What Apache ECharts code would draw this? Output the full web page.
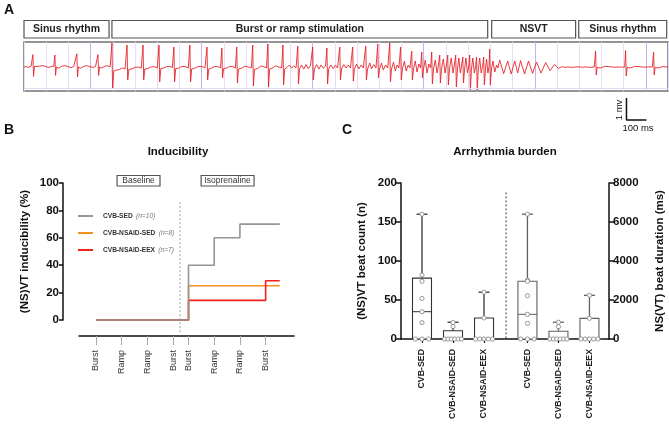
<!DOCTYPE html>
<html><head><meta charset="utf-8">
<script src="https://cdn.jsdelivr.net/npm/echarts@6/dist/echarts.min.js"></script>
<style>html,body{margin:0;padding:0;background:#fff}#c{width:669px;height:425px}</style>
</head><body><div id="c"></div>
<script>
// ---------- Panel A data ----------
const ecgSegments = ['Sinus rhythm', 'Burst or ramp stimulation', 'NSVT', 'Sinus rhythm'];
const ecgSegmentStart = [200, 596, 2306, 2698];
const ecgSegmentEnd = [583, 2288, 2684, 3094];
const ecgTrace = [
[200,0.0],[210,0.02],[222,-0.02],[232,0.04],[237,0.02],[240,0.62],[243,-0.47],[247,0.02],[256,-0.05],[270,0.04],[284,0.07],[298,0.02],[312,-0.02],[324,0.03],[334,0.03],
[339,0.6],[342,-0.42],[346,0.0],[356,-0.06],[370,0.04],[384,0.07],[398,0.02],[412,-0.03],[424,0.02],[433,0.04],
[438,0.66],[441,-0.5],[445,0.0],[455,-0.06],[470,0.04],[484,0.07],[498,0.01],[512,-0.02],[522,0.02],[529,0.03],
[533,0.62],[536,-0.42],[540,0.0],[550,-0.05],[564,0.04],[577,0.06],[588,0.01],[593,0.0],
[596,1.2],[599,-1.1],[604,-0.2],[615,-0.16],[630,-0.12],[645,-0.05],[655,-0.1],[661,-0.08],
[664,1.1],[667,-0.65],[672,-0.12],[685,-0.1],[700,-0.02],[715,0.0],[728,-0.06],[733,-0.05],
[736,1.1],[739,-0.65],[744,-0.1],[757,-0.08],[772,0.0],[787,0.02],[800,-0.05],[805,-0.04],
[808,1.1],[811,-0.75],[816,-0.08],[829,-0.05],[843,0.02],[857,0.03],[868,-0.03],[872,-0.02],
[875,1.0],[878,-0.75],[883,-0.08],[896,-0.06],[910,0.03],[925,0.02],[940,-0.04],[944,-0.03],
[947,1.1],[950,-0.75],[955,-0.1],[968,-0.06],[984,0.02],[1000,0.03],[1015,-0.04],[1021,-0.03],
[1024,1.0],[1027,-0.65],[1032,-0.1],[1045,-0.05],[1060,0.03],[1075,0.01],[1085,-0.04],[1088,-0.03],
[1091,0.95],[1094,-0.55],[1099,-0.08],[1112,-0.05],[1126,0.03],[1140,0.02],[1152,-0.05],[1155,-0.03],
[1158,1.0],[1161,-0.8],[1166,-0.1],[1180,-0.06],[1195,0.04],[1210,0.0],[1224,-0.04],[1227,-0.03],
[1230,1.1],[1233,-0.95],[1238,-0.12],[1252,-0.08],[1266,0.05],[1280,0.02],[1292,-0.05],[1295,-0.03],
[1298,1.15],[1301,-1.0],[1306,-0.1],[1320,-0.05],[1333,0.06],[1347,0.0],[1360,-0.05],[1363,-0.03],
[1366,1.1],[1369,-0.9],[1374,-0.1],[1385,-0.02],[1395,0.1],[1405,-0.05],[1415,0.05],[1425,-0.04],[1430,-0.02],
[1433,1.05],[1436,-0.85],[1441,-0.08],[1450,0.1],[1460,-0.1],[1470,0.12],[1480,-0.08],[1490,0.08],[1497,-0.02],
[1500,1.0],[1503,-0.65],[1508,-0.1],[1518,0.12],[1528,-0.1],[1538,0.1],[1548,-0.06],[1558,0.05],[1561,0.0],
[1564,0.95],[1567,-0.85],[1572,-0.1],[1582,0.1],[1592,-0.08],[1602,0.08],[1612,-0.05],[1619,0.0],
[1622,1.0],[1625,-0.65],[1630,-0.1],[1640,0.12],[1650,-0.05],[1660,0.1],[1670,-0.05],[1677,0.0],
[1680,1.0],[1683,-0.7],[1688,-0.1],[1698,0.15],[1708,-0.1],[1718,0.1],[1728,-0.05],[1736,0.0],
[1739,1.05],[1742,-0.65],[1747,-0.1],[1757,0.2],[1765,-0.1],[1775,0.12],[1785,-0.05],[1790,0.0],
[1793,1.15],[1796,-0.55],[1801,-0.1],[1810,0.2],[1818,-0.15],[1828,0.1],[1838,-0.05],[1844,0.0],
[1847,1.2],[1850,-0.75],[1855,-0.1],[1864,0.25],[1872,-0.2],[1880,0.1],[1888,-0.05],[1893,0.0],
[1896,1.0],[1899,-0.65],[1904,-0.1],[1913,0.3],[1921,-0.2],[1930,0.1],[1938,-0.05],[1943,0.0],
[1946,0.8],[1949,-0.65],[1954,-0.1],[1962,0.3],[1970,-0.25],[1978,0.15],[1986,-0.05],[1989,0.0],
[1991,0.75],[1994,-0.55],[1999,-0.1],[2007,0.35],[2015,-0.3],[2023,0.15],[2031,-0.05],[2034,0.0],
[2036,0.75],[2039,-0.85],[2044,-0.1],[2052,0.35],[2060,-0.3],[2066,0.1],[2070,0.0],
[2072,0.6],[2075,-0.8],[2080,-0.1],[2088,0.4],[2096,-0.3],[2102,0.1],[2106,0.0],
[2108,0.6],[2111,-0.9],[2116,-0.1],[2124,0.45],[2132,-0.3],[2138,0.1],[2142,0.0],
[2144,0.6],[2147,-1.0],[2152,-0.1],[2158,0.45],[2165,-0.3],[2170,0.05],[2173,0.0],
[2176,0.5],[2179,-0.8],[2184,-0.1],[2190,0.45],[2197,-0.3],[2203,0.05],[2205,0.0],
[2207,0.6],[2210,-1.15],[2215,-0.1],[2221,0.45],[2228,-0.3],[2234,0.05],[2236,0.0],
[2238,0.5],[2241,-1.15],[2246,-0.1],[2252,0.45],[2259,-0.3],[2265,0.05],[2267,0.0],
[2270,0.5],[2273,-0.9],[2278,-0.1],[2283,0.4],[2289,-0.3],[2294,0.0],
[2297,0.9],[2300,-0.9],[2305,-0.1],[2312,0.3],[2320,-0.25],[2328,0.1],[2334,-0.05],
[2342,0.35],[2360,-0.33],[2378,0.3],[2394,-0.35],[2410,0.3],[2423,-0.3],[2436,0.32],[2454,-0.35],[2472,0.3],[2490,-0.32],[2508,0.25],[2528,-0.3],[2549,0.22],[2569,-0.18],[2589,0.12],[2607,-0.08],[2620,0.02],[2635,-0.02],
[2650,0.0],[2670,-0.02],[2690,0.01],[2710,-0.01],[2730,0.0],[2750,-0.02],[2768,0.0],[2771,0.02],
[2774,0.8],[2777,-0.4],[2781,-0.02],[2795,-0.05],[2815,0.03],[2835,0.02],[2855,-0.01],[2875,0.0],[2895,-0.01],[2905,0.01],
[2909,0.82],[2912,-0.45],[2916,-0.02],[2930,-0.05],[2950,0.03],[2970,0.02],[2990,-0.01],[3010,0.0],[3030,0.01],
[3035,0.75],[3038,-0.4],[3042,-0.02],[3056,-0.05],[3075,0.02],[3100,0.0]
];
const scaleBar = [[2913,-1.55],[2913,-2.65],[3003,-2.65]];

// ---------- Panel B data ----------
const protocolSteps = ['Burst','Ramp','Ramp','Burst','Burst','Ramp','Ramp','Burst'];
const protocolPos = [1, 2, 3, 4, 4.6, 5.6, 6.6, 7.6];
const phases = ['Baseline', 'Isoprenaline'];
const phaseFrom = [1.82, 5.09];
const phaseTo = [3.49, 7.15];
const groups = ['CVB-SED', 'CVB-NSAID-SED', 'CVB-NSAID-EEX'];
const groupN = ['n=10', 'n=8', 'n=7'];
const inducibilitySed = [[1,0],[4.6,40],[5.6,60],[6.6,70],[8.15,70]];
const inducibilityNsaidSed = [[1,0],[4.6,25],[8.15,25]];
const inducibilityNsaidEex = [[1,0],[4.6,14.3],[7.6,28.6],[8.15,28.6]];
const isoDivider = [[4.27,86],[4.27,-10]];

// ---------- Panel C data ----------
const burdenPos = [1, 2, 3, 4.4, 5.4, 6.4];
const burdenLabels = groups.concat(groups);
// [min, q1, median, q3, max]
const countBox = [[0,0,35,78,160],[0,0,0,10.5,21.5],[0,0,0,27,60]];
const durationBox = [[0,0,1265,2960,6400],[0,0,0,400,860],[0,0,0,1060,2240]];
const countPoints = [[160,82,74,52,35,21,0,0,0],[21,16,0,0,0,0,0,0],[60,27,0,0,0,0,0]];
const durationPoints = [[6400,3020,2960,2220,1265,800,0,0,0],[860,630,0,0,0,0,0,0],[2240,1060,0,0,0,0,0]];
const burdenDivider = [[3.71,188],[3.71,0]];

// ---------- build ----------
const FONT = '"Liberation Sans", Arial, sans-serif';
const colorsB = {'CVB-SED':'#959595','CVB-NSAID-SED':'#f5921e','CVB-NSAID-EEX':'#f2201f'};

function boxData(pos, boxes){ return boxes.map((b,i)=>[pos[i]].concat(b)); }
function pointData(pos, pts){
  const out=[];
  pts.forEach((vals,g)=>{
    const seen={};
    vals.forEach(v=>{
      const cnt = vals.filter(w=>w===v).length;
      const slot = seen[v]||0; seen[v]=slot+1;
      out.push([pos[g], v, slot, cnt]);
    });
  });
  return out;
}
function boxRender(color){
  return function(params, api){
    const x=api.value(0), mn=api.value(1), q1=api.value(2), md=api.value(3), q3=api.value(4), mx=api.value(5);
    const c=api.coord([x,q3]), b=api.coord([x,q1]), m=api.coord([x,md]), t=api.coord([x,mx]);
    const hw=9.5, cw=5.5;
    const ch=[
      {type:'line',shape:{x1:c[0],y1:t[1],x2:c[0],y2:c[1]},style:{stroke:color,lineWidth:1.3}},
      {type:'line',shape:{x1:c[0]-cw,y1:t[1],x2:c[0]+cw,y2:t[1]},style:{stroke:color,lineWidth:1.3}},
      {type:'rect',shape:{x:c[0]-hw,y:c[1],width:2*hw,height:b[1]-c[1]},style:{fill:'#fff',stroke:color,lineWidth:1.1}}
    ];
    if(md>q1) ch.push({type:'line',shape:{x1:c[0]-hw,y1:m[1],x2:c[0]+hw,y2:m[1]},style:{stroke:color,lineWidth:1}});
    return {type:'group',children:ch};
  };
}
function pointRender(params, api){
  const p=api.coord([api.value(0),api.value(1)]);
  const slot=api.value(2), cnt=api.value(3);
  const sp = cnt>1 ? Math.min(6.7, 17/(cnt-1)) : 0;
  return {type:'circle',shape:{cx:p[0]+(slot-(cnt-1)/2)*sp,cy:p[1],r:2.1},style:{fill:'#fff',stroke:'#8c8c8c',lineWidth:0.9}};
}
function labelFor(pos, labels){
  return function(v){ for(let i=0;i<pos.length;i++){ if(Math.abs(pos[i]-v)<1e-6) return labels[i]; } return ''; };
}
const plain = v => String(v);

const chart = echarts.init(document.getElementById('c'), null, {renderer:'canvas'});
const L='#e6dcf5', D='#c7b3ec';
chart.setOption({
  animation:false,
  textStyle:{fontFamily:FONT},
  grid:[
    {left:24, top:42, width:644, height:49, show:true, borderColor:'#727272', borderWidth:1.5},
    {left:79, top:183, width:215, height:137},
    {left:401, top:183, width:208, height:156}
  ],
  xAxis:[
    {gridIndex:0, type:'value', min:200, max:3100, interval:100,
     axisLine:{show:false}, axisTick:{show:false}, axisLabel:{show:false},
     splitLine:{show:true, lineStyle:{color:[L,L,L,D,L], width:1}}},
    {gridIndex:1, type:'value', min:0.3385, max:8.704, offset:16,
     axisLine:{show:true, onZero:false, lineStyle:{color:'#111', width:1.5}},
     axisTick:{show:true, customValues:protocolPos, length:9, lineStyle:{color:'#aaa', width:1}},
     axisLabel:{show:true, customValues:protocolPos, formatter:labelFor(protocolPos, protocolSteps), rotate:90, fontSize:9, color:'#333', margin:14, fontFamily:FONT},
     splitLine:{show:false}},
    {gridIndex:2, type:'value', min:0.323, max:7.03,
     axisLine:{show:true, onZero:false, lineStyle:{color:'#111', width:1.5}},
     axisTick:{show:true, customValues:burdenPos, length:4, lineStyle:{color:'#111', width:1.2}},
     axisLabel:{show:true, customValues:burdenPos, formatter:labelFor(burdenPos, burdenLabels), rotate:90, fontSize:8.8, fontWeight:'bold', color:'#222', margin:10, fontFamily:FONT},
     splitLine:{show:false}}
  ],
  yAxis:[
    {gridIndex:0, type:'value', min:-1.2, max:1.25, show:false, splitLine:{show:false}},
    {gridIndex:1, type:'value', min:0, max:100, interval:20, offset:16,
     axisLine:{show:true, onZero:false, lineStyle:{color:'#111', width:1.5}},
     axisTick:{show:true, length:4, lineStyle:{color:'#111', width:1.5}},
     axisLabel:{fontSize:11.5, fontWeight:'bold', color:'#111', margin:4, fontFamily:FONT, formatter:plain},
     splitLine:{show:false},
     name:'(NS)VT inducibility (%)', nameLocation:'middle', nameGap:32, nameRotate:90,
     nameTextStyle:{fontSize:11.5, fontWeight:'bold', color:'#111', fontFamily:FONT}},
    {gridIndex:2, type:'value', min:0, max:200, interval:50,
     axisLine:{show:true, onZero:false, lineStyle:{color:'#111', width:1.5}},
     axisTick:{show:true, length:5, lineStyle:{color:'#111', width:1.5}},
     axisLabel:{fontSize:11.5, fontWeight:'bold', color:'#111', margin:4, fontFamily:FONT, formatter:plain},
     splitLine:{show:false},
     name:'(NS)VT beat count (n)', nameLocation:'middle', nameGap:33, nameRotate:90,
     nameTextStyle:{fontSize:11.5, fontWeight:'bold', color:'#111', fontFamily:FONT}},
    {gridIndex:2, type:'value', min:0, max:8000, interval:2000, position:'right',
     axisLine:{show:true, onZero:false, lineStyle:{color:'#111', width:1.5}},
     axisTick:{show:true, length:5, lineStyle:{color:'#111', width:1.5}},
     axisLabel:{fontSize:11.5, fontWeight:'bold', color:'#111', margin:4, fontFamily:FONT, formatter:plain},
     splitLine:{show:false},
     name:'NS(VT) beat duration (ms)', nameLocation:'middle', nameGap:45, nameRotate:90,
     nameTextStyle:{fontSize:11.5, fontWeight:'bold', color:'#111', fontFamily:FONT}}
  ],
  legend:{
    data:groups, orient:'vertical', left:73, top:205, itemWidth:15, itemHeight:2, itemGap:5, icon:'rect',
    formatter:function(name){ return '{b|'+name+'} {i|('+groupN[groups.indexOf(name)]+')}'; },
    textStyle:{padding:[0,0,0,5], rich:{
      b:{fontSize:6.6, fontWeight:'bold', color:'#333', lineHeight:8, fontFamily:FONT},
      i:{fontSize:6.6, fontStyle:'italic', color:'#777', lineHeight:8, fontFamily:FONT}}}
  },
  series:[
    {name:'ECG', type:'line', xAxisIndex:0, yAxisIndex:0, data:ecgTrace, symbol:'none', clip:true,
     lineStyle:{color:'#e5262d', width:0.9},
     markLine:{silent:true, symbol:'none', label:{show:false}, data:[{yAxis:-1.05}], lineStyle:{color:'#e4daf3', type:'solid', width:1}}},
    {name:'scale', type:'line', xAxisIndex:0, yAxisIndex:0, data:scaleBar, symbol:'none', clip:false,
     lineStyle:{color:'#111', width:1.5}},
    {name:'segments', type:'custom', xAxisIndex:0, yAxisIndex:0, clip:false,
     data:ecgSegments.map((s,i)=>[ecgSegmentStart[i], ecgSegmentEnd[i], i]),
     encode:{x:[0,1]},
     renderItem:function(params, api){
       const x1=api.coord([api.value(0),0])[0], x2=api.coord([api.value(1),0])[0];
       return {type:'group', children:[
         {type:'rect', shape:{x:x1, y:20.5, width:x2-x1, height:17.5}, style:{fill:'#fff', stroke:'#555', lineWidth:1.2}},
         {type:'text', x:(x1+x2)/2, y:29.5, style:{text:ecgSegments[api.value(2)], align:'center', verticalAlign:'middle', fontSize:10.5, fontWeight:'bold', fontFamily:FONT, fill:'#222'}}
       ]};
     }},
    {name:'phases', type:'custom', xAxisIndex:1, yAxisIndex:1, clip:false,
     data:phases.map((s,i)=>[phaseFrom[i], phaseTo[i], i]),
     encode:{x:[0,1]},
     renderItem:function(params, api){
       const x1=api.coord([api.value(0),0])[0], x2=api.coord([api.value(1),0])[0];
       return {type:'group', children:[
         {type:'rect', shape:{x:x1, y:175.5, width:x2-x1, height:10.5}, style:{fill:'#fff', stroke:'#555', lineWidth:1.2}},
         {type:'text', x:(x1+x2)/2, y:181, style:{text:phases[api.value(2)], align:'center', verticalAlign:'middle', fontSize:8.5, fontFamily:FONT, fill:'#333'}}
       ]};
     }},
    {name:'CVB-NSAID-SED', type:'line', xAxisIndex:1, yAxisIndex:1, data:inducibilityNsaidSed, step:'end', symbol:'none', clip:false,
     lineStyle:{color:colorsB['CVB-NSAID-SED'], width:1.6}, itemStyle:{color:colorsB['CVB-NSAID-SED']}},
    {name:'CVB-NSAID-EEX', type:'line', xAxisIndex:1, yAxisIndex:1, data:inducibilityNsaidEex, step:'end', symbol:'none', clip:false,
     lineStyle:{color:colorsB['CVB-NSAID-EEX'], width:1.6}, itemStyle:{color:colorsB['CVB-NSAID-EEX']}},
    {name:'CVB-SED', type:'line', xAxisIndex:1, yAxisIndex:1, data:inducibilitySed, step:'end', symbol:'none', clip:false,
     lineStyle:{color:colorsB['CVB-SED'], width:1.6}, itemStyle:{color:colorsB['CVB-SED']}},
    {name:'iso', type:'line', xAxisIndex:1, yAxisIndex:1, data:isoDivider, symbol:'none', clip:false,
     lineStyle:{color:'#999', width:1, type:[2,2]}},
    {name:'divider', type:'line', xAxisIndex:2, yAxisIndex:2, data:burdenDivider, symbol:'none', clip:false,
     lineStyle:{color:'#222', width:0.9, type:[2,2]}},
    {name:'countBoxes', type:'custom', xAxisIndex:2, yAxisIndex:2, data:boxData(burdenPos.slice(0,3), countBox),
     encode:{x:0, y:[1,2,3,4,5]}, renderItem:boxRender('#333')},
    {name:'durationBoxes', type:'custom', xAxisIndex:2, yAxisIndex:3, data:boxData(burdenPos.slice(3), durationBox),
     encode:{x:0, y:[1,2,3,4,5]}, renderItem:boxRender('#606060')},
    {name:'countPts', type:'custom', xAxisIndex:2, yAxisIndex:2, data:pointData(burdenPos.slice(0,3), countPoints),
     encode:{x:0, y:1}, renderItem:pointRender, z:5},
    {name:'durationPts', type:'custom', xAxisIndex:2, yAxisIndex:3, data:pointData(burdenPos.slice(3), durationPoints),
     encode:{x:0, y:1}, renderItem:pointRender, z:5}
  ],
  graphic:[
    {type:'text', x:4, y:3, style:{text:'A', fontSize:14, fontWeight:'bold', fontFamily:FONT, fill:'#111'}},
    {type:'text', x:4, y:123, style:{text:'B', fontSize:14, fontWeight:'bold', fontFamily:FONT, fill:'#111'}},
    {type:'text', x:342, y:123, style:{text:'C', fontSize:14, fontWeight:'bold', fontFamily:FONT, fill:'#111'}},
    {type:'text', x:178, y:152, style:{text:'Inducibility', align:'center', verticalAlign:'middle', fontSize:11.5, fontWeight:'bold', fontFamily:FONT, fill:'#111'}},
    {type:'text', x:505, y:152, style:{text:'Arrhythmia burden', align:'center', verticalAlign:'middle', fontSize:11.5, fontWeight:'bold', fontFamily:FONT, fill:'#111'}},
    {type:'text', x:619, y:110, rotation:Math.PI/2, style:{text:'1 mv', align:'center', verticalAlign:'middle', fontSize:9.5, fontFamily:FONT, fill:'#111'}},
    {type:'text', x:638, y:128, style:{text:'100 ms', align:'center', verticalAlign:'middle', fontSize:9.5, fontFamily:FONT, fill:'#111'}}
  ]
});
</script></body></html>
